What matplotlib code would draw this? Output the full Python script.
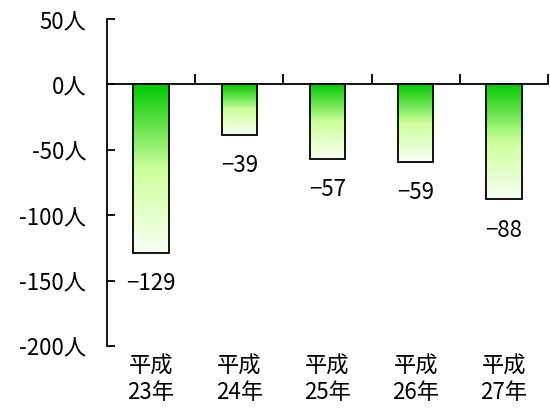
import numpy as np
import matplotlib.pyplot as plt
import matplotlib.transforms as mtransforms
from matplotlib.colors import LinearSegmentedColormap

plt.rcParams['font.family'] = ['Noto Sans CJK JP', 'DejaVu Sans']

# データ
categories = ["平成\n23年", "平成\n24年", "平成\n25年", "平成\n26年", "平成\n27年"]
values = [-129, -39, -57, -59, -88]
yticks = [50, 0, -50, -100, -150, -200]
ytick_labels = ["50人", "0人", "-50人", "-100人", "-150人", "-200人"]

fig = plt.figure(figsize=(5.5, 4.1), dpi=100)
ax = fig.add_axes([0.1945, 0.154, 0.802, 0.797])

# グラデーション（上：濃い緑 → 下：ほぼ白）
cmap = LinearSegmentedColormap.from_list(
    "g", [(0.0, "#00c800"), (0.5, "#ccff99"), (1.0, "#f8fff4")])
grad = np.linspace(0, 1, 256).reshape(-1, 1)

x = np.arange(len(values))
bars = ax.bar(x, values, width=0.4, facecolor="none", edgecolor="black",
              linewidth=1.3, zorder=3)
for b, v in zip(bars, values):
    x0 = b.get_x()
    im = ax.imshow(grad, cmap=cmap, aspect="auto", zorder=2,
                   extent=[x0, x0 + b.get_width(), v, 0], origin="upper")
    im.set_clip_path(b)
    ax.annotate(f"−{abs(v)}", (b.get_x() + b.get_width() / 2, v),
                xytext=(0, -13), textcoords="offset points",
                ha="center", va="top", fontsize=16)

ax.set_xlim(-0.5, 4.5)
ax.set_ylim(-200, 50)

# 軸
ax.spines["top"].set_visible(False)
ax.spines["right"].set_visible(False)
ax.spines["bottom"].set_position(("data", 0))
ax.spines["left"].set_linewidth(1.3)
ax.spines["bottom"].set_linewidth(1.3)

ax.set_yticks(yticks)
ax.set_yticklabels(ytick_labels, fontsize=16)
ax.tick_params(axis="y", direction="in", length=6, width=1.3, pad=15)

ax.set_xticks(np.arange(0.5, 5, 1))
ax.set_xticklabels([])
ax.tick_params(axis="x", direction="in", length=7, width=1.3)

trans = mtransforms.blended_transform_factory(ax.transData, ax.transAxes)
for xi, c in zip(x, categories):
    ax.text(xi, -0.025, c, transform=trans, ha="center", va="top",
            fontsize=16, linespacing=1.15)

fig.savefig("out.png", dpi=100)
